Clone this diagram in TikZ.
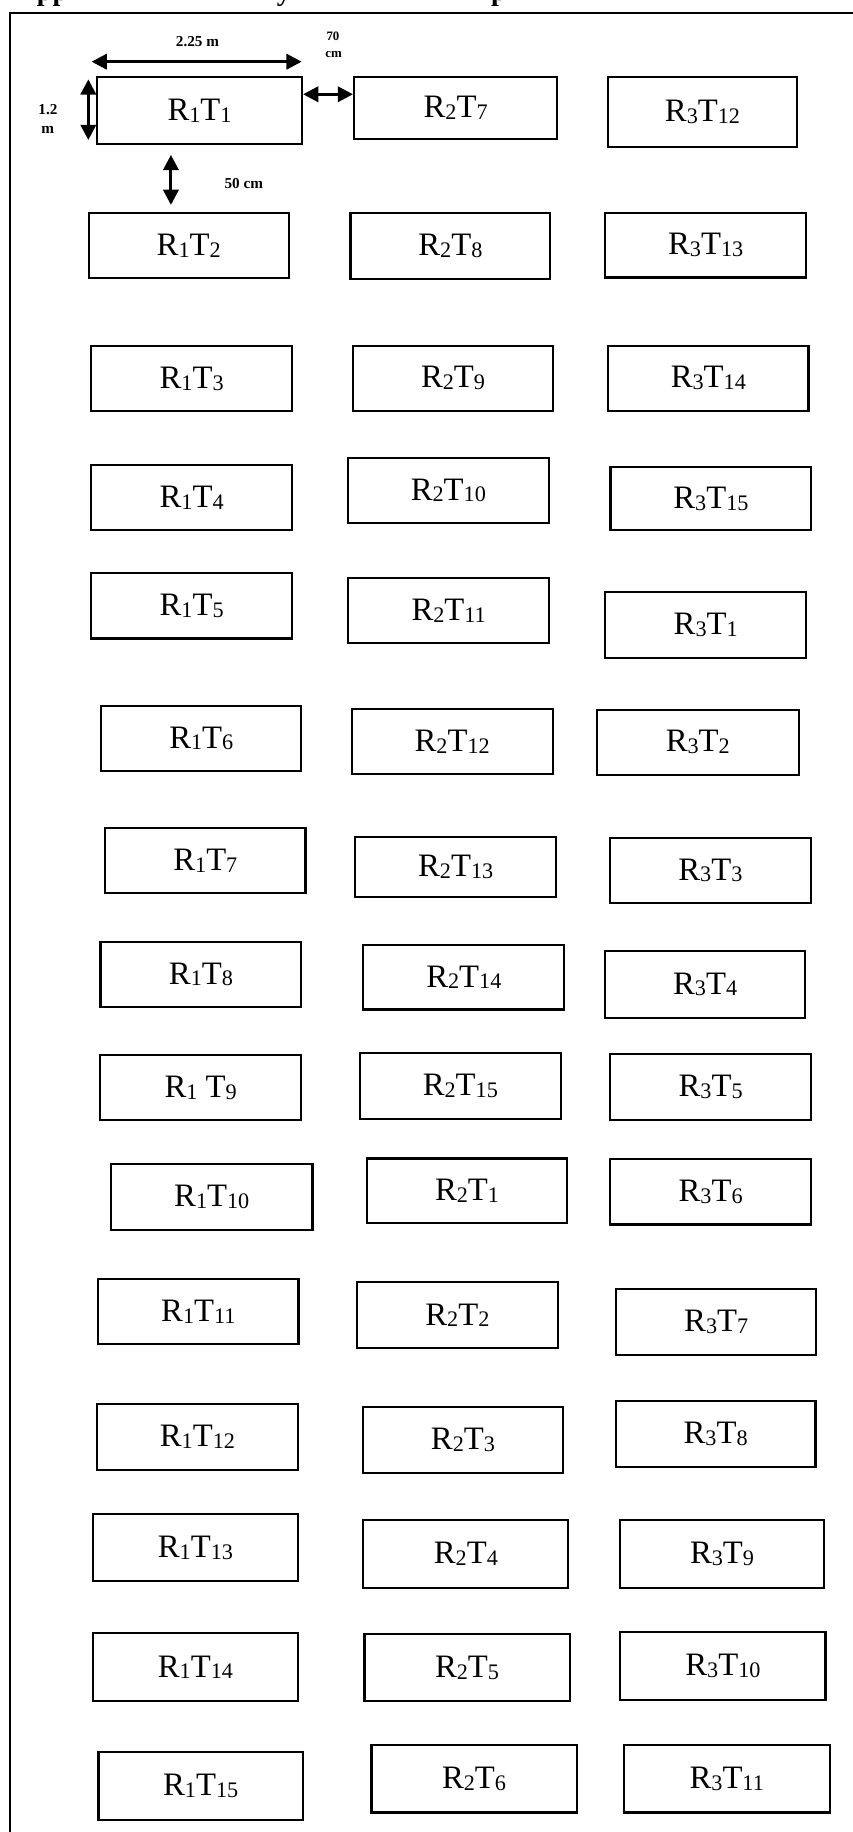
\documentclass[tikz,border=0pt]{standalone}
\usepackage{fontspec}
\setmainfont{Liberation Serif}
\usetikzlibrary{arrows.meta}
\newcommand\sbx[1]{\raisebox{-1.6pt}{\fontsize{19}{19}\selectfont #1}}
\newcommand\lb[2]{R\sbx{#1}T\sbx{#2}}
\newcommand\tb[6]{\node[tbox, minimum width={#3-#2}, minimum height={#5-#4}] (#1) at ({(#2+#3)/2},{(#4+#5)/2}) {#6};}
\begin{document}
\begin{tikzpicture}[x=1pt,y=-1pt,
  tbox/.style={draw, line width=1.8pt, inner sep=0pt, font=\fontsize{28}{28}\selectfont},
  dimarrow/.style={line width=2.6pt, {Triangle[length=13pt,width=13pt]}-{Triangle[length=13pt,width=13pt]}},
  dimtext/.style={font=\bfseries\fontsize{13}{13}\selectfont, inner sep=0pt, anchor=base},
  smalltext/.style={font=\bfseries\fontsize{11}{11}\selectfont, inner sep=0pt, anchor=base},
  frameline/.style={line width=2pt},
  titlefrag/.style={font=\bfseries\fontsize{24}{24}\selectfont, inner sep=0pt, anchor=base}]
\useasboundingbox (0,0) rectangle (730,1568);
\clip (0,0) rectangle (730,1568);
% title fragments (cut off at top edge, as in the reference)
\node[titlefrag] (tf1) at (45,0.3) {pp};
\node[titlefrag] (tf2) at (243,0.3) {y};
\node[titlefrag] (tf3) at (427,0.3) {p};
% frame
\draw[frameline] (745,11) -- (8.5,11) -- (8.5,1590);
% column 1
\tb{r1t1}{83}{258.5}{66}{123}{\lb{1}{1}}
\tb{r1t2}{76}{247}{182}{238}{\lb{1}{2}}
\tb{r1t3}{78}{250}{296.5}{352}{\lb{1}{3}}
\tb{r1t4}{78}{250}{398}{453.5}{\lb{1}{4}}
\tb{r1t5}{78}{250}{490.5}{546.5}{\lb{1}{5}}
\tb{r1t6}{86.5}{258}{604}{660}{\lb{1}{6}}
\tb{r1t7}{90}{261.5}{708.5}{764.5}{\lb{1}{7}}
\tb{r1t8}{86}{258}{806}{862}{\lb{1}{8}}
\tb{r1t9}{85.5}{258}{903}{958.5}{R\sbx{1} T\sbx{9}}
\tb{r1t10}{95}{267.5}{996.5}{1052.5}{\lb{1}{10}}
\tb{r1t11}{84}{255.5}{1095}{1150.5}{\lb{1}{11}}
\tb{r1t12}{83}{255}{1201.5}{1258}{\lb{1}{12}}
\tb{r1t13}{79.5}{255}{1296}{1353.5}{\lb{1}{13}}
\tb{r1t14}{79.5}{255}{1398}{1456}{\lb{1}{14}}
\tb{r1t15}{84.3}{259.3}{1499.5}{1558}{\lb{1}{15}}
% column 2
\tb{r2t7}{303}{477}{66}{119}{\lb{2}{7}}
\tb{r2t8}{300}{471}{182}{239}{\lb{2}{8}}
\tb{r2t9}{302}{473.5}{296}{351.5}{\lb{2}{9}}
\tb{r2t10}{298}{469.5}{392}{447.5}{\lb{2}{10}}
\tb{r2t11}{298}{470}{495}{550.5}{\lb{2}{11}}
\tb{r2t12}{301}{473}{607}{662.5}{\lb{2}{12}}
\tb{r2t13}{304}{476}{716}{768}{\lb{2}{13}}
\tb{r2t14}{311}{483}{809}{864}{\lb{2}{14}}
\tb{r2t15}{308}{480}{901.5}{958}{\lb{2}{15}}
\tb{r2t1}{314}{485.5}{991.5}{1047}{\lb{2}{1}}
\tb{r2t2}{305.5}{477.5}{1097.5}{1154}{\lb{2}{2}}
\tb{r2t3}{310.5}{482}{1204.5}{1261}{\lb{2}{3}}
\tb{r2t4}{311}{486.5}{1301}{1359}{\lb{2}{4}}
\tb{r2t5}{312}{487.5}{1398.5}{1456}{\lb{2}{5}}
\tb{r2t6}{318}{493.5}{1493.5}{1551.3}{\lb{2}{6}}
% column 3
\tb{r3t12}{520}{682.5}{66}{125.5}{\lb{3}{12}}
\tb{r3t13}{518}{690}{182}{237.5}{\lb{3}{13}}
\tb{r3t14}{520.5}{692}{296}{351.5}{\lb{3}{14}}
\tb{r3t15}{522.5}{694.5}{400}{454}{\lb{3}{15}}
\tb{r3t1}{518}{690}{507}{563}{\lb{3}{1}}
\tb{r3t2}{511}{683.5}{607.5}{663}{\lb{3}{2}}
\tb{r3t3}{522}{694}{717}{773}{\lb{3}{3}}
\tb{r3t4}{518}{689}{814}{871}{\lb{3}{4}}
\tb{r3t5}{522}{694.5}{902}{958.5}{\lb{3}{5}}
\tb{r3t6}{522}{694.5}{992}{1048}{\lb{3}{6}}
\tb{r3t7}{527.5}{698.5}{1103}{1159.5}{\lb{3}{7}}
\tb{r3t8}{527}{698}{1199}{1255.5}{\lb{3}{8}}
\tb{r3t9}{530.5}{705.5}{1301}{1359}{\lb{3}{9}}
\tb{r3t10}{531}{706.5}{1397}{1454.8}{\lb{3}{10}}
\tb{r3t11}{534}{710}{1493.5}{1551.3}{\lb{3}{11}}
% dimension arrows
\coordinate (wA) at (78.4,52.8);
\coordinate (wB) at (258.2,52.8);
\draw[dimarrow] (wA) -- (wB);
\coordinate (hA) at (75.6,67.9);
\coordinate (hB) at (75.6,119.8);
\draw[dimarrow] (hA) -- (hB);
\coordinate (gap) at (0,80.7);
\draw[dimarrow] (r1t1.east |- gap) -- (r2t7.west |- gap);
\coordinate (vA) at (146.3,132.6);
\coordinate (vB) at (146.3,175.4);
\draw[dimarrow] (vA) -- (vB);
% dimension labels
\node[dimtext] (l225) at (169,40) {2.25 m};
\node[smalltext] (l70) at (285,34.8) {70};
\node[smalltext] (lcm) at (285.5,49) {cm};
\node[dimtext] (l12) at (41,98.4) {1.2};
\node[dimtext] (l12m) at (40.8,114) {m};
\node[dimtext] (l50) at (208.6,161.7) {50 cm};
\end{tikzpicture}
\end{document}
